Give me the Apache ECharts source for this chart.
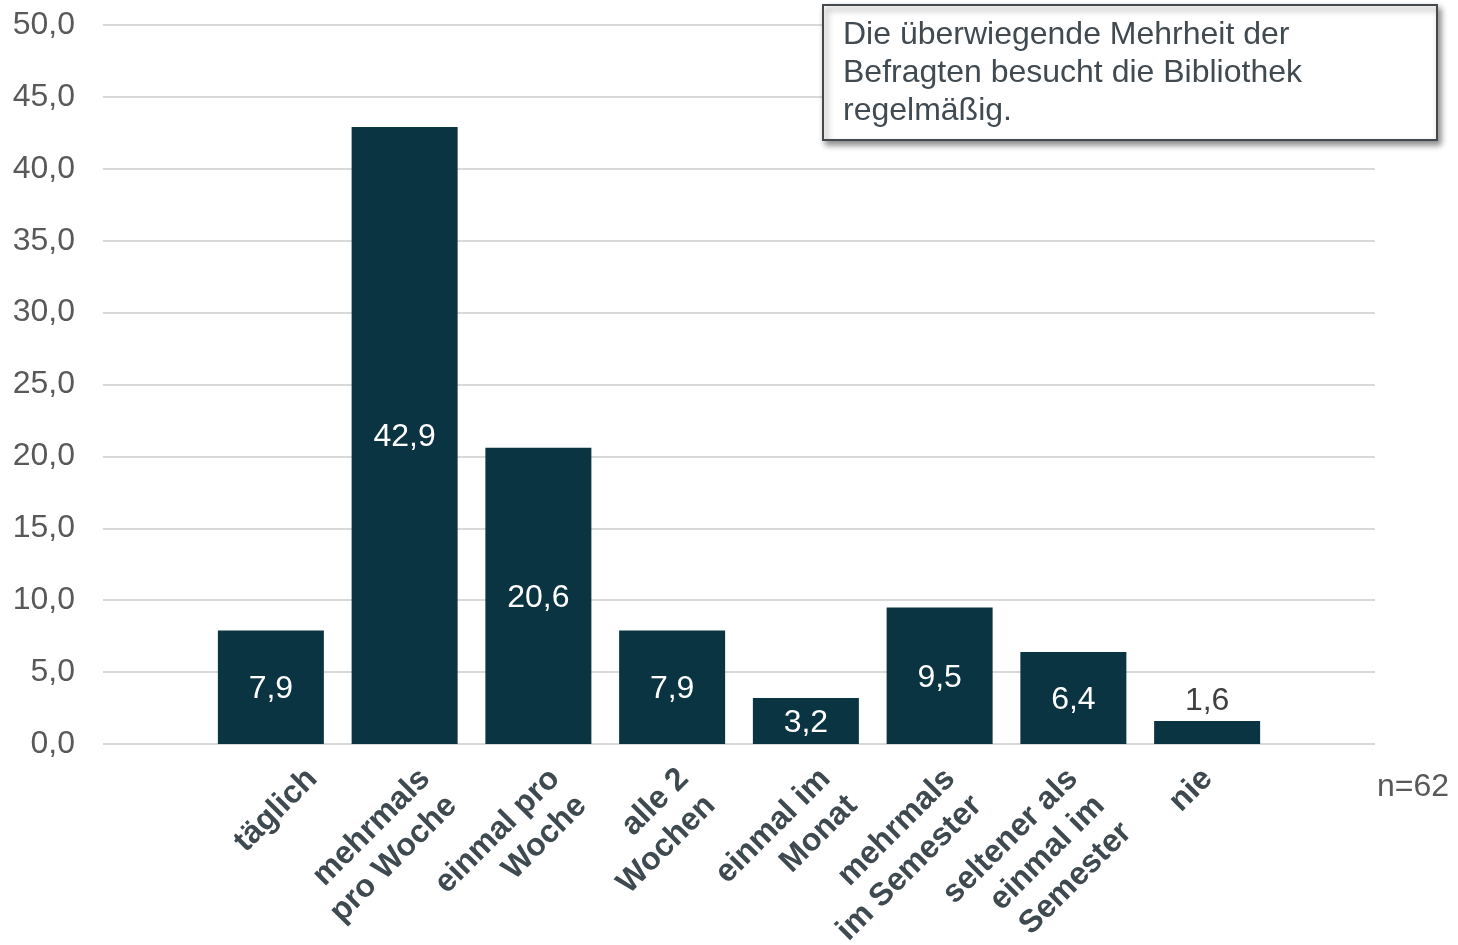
<!DOCTYPE html>
<html>
<head>
    <meta charset="utf-8">
    <title>Bibliotheksbesuche</title>
    <script src="https://cdn.jsdelivr.net/npm/echarts@6/dist/echarts.min.js"></script>
    <style>
        html, body { margin: 0; padding: 0; background: #fff; }
        #main { width: 1458px; height: 945px; }
    </style>
</head>
<body>
<div id="main"></div>
<script type="text/javascript">
    // Daten
    var kategorien = ['täglich', 'mehrmals\npro Woche', 'einmal pro\nWoche', 'alle 2\nWochen',
        'einmal im\nMonat', 'mehrmals\nim Semester', 'seltener als\neinmal im\nSemester', 'nie'];
    var anteile = [7.9, 42.9, 20.6, 7.9, 3.2, 9.5, 6.4, 1.6];
    var yMax = 50, yStep = 5;
    var hinweis = 'Die überwiegende Mehrheit der\nBefragten besucht die Bibliothek\nregelmäßig.';
    var stichprobe = 'n=62';

    var FONT = '"Liberation Sans", Arial, sans-serif';
    var komma = function (v) { return v.toFixed(1).replace('.', ','); };

    var myChart = echarts.init(document.getElementById('main'));

    // Layout: horizontale Verschiebung der gedrehten Beschriftungen (px, wie im Original)
    var verschiebung = [46, 25, 21, 16, 24, 15, 4, 5];

    var balken = anteile.map(function (v) {
        if (v < 2) {
            // kleiner Balken -> Wert oberhalb
            return { value: v, label: { position: 'top', color: '#404040', distance: 6 } };
        }
        return v;
    });

    // unsichtbare Kopie der Balken, traegt die Kategorienbeschriftung am Balkenfuss
    // (offset wirkt im gedrehten System -> zurueckdrehen)
    var fuss = anteile.map(function (v, i) {
        var sx = verschiebung[i] - 18, sy = 16.5;
        return { value: v, label: { offset: [(sx - sy) / Math.SQRT2, (sx + sy) / Math.SQRT2] } };
    });

    var option = {
        backgroundColor: '#fff',
        animation: false,
        grid: [
            { left: 103, right: 83, top: 25, bottom: 201, outerBoundsMode: 'none' },   // Gitternetz
            { left: 204, right: 184, top: 25, bottom: 201, outerBoundsMode: 'none' }   // Balken
        ],
        xAxis: [
            { gridIndex: 0, type: 'value', show: false, min: 0, max: 1 },
            {
                gridIndex: 1,
                type: 'category',
                data: kategorien,
                axisLine: { show: false },
                axisTick: { show: false },
                axisLabel: { show: false }
            }
        ],
        yAxis: [
            {
                gridIndex: 0,
                type: 'value',
                min: 0,
                max: yMax,
                interval: yStep,
                axisLine: { show: false },
                axisTick: { show: false },
                axisLabel: {
                    formatter: komma,
                    fontFamily: FONT,
                    fontSize: 32,
                    color: '#595959',
                    margin: 28
                },
                splitLine: { lineStyle: { color: '#d9d9d9', width: 2 } }
            },
            { gridIndex: 1, type: 'value', min: 0, max: yMax, show: false }
        ],
        series: [
            {
                type: 'bar',
                xAxisIndex: 1,
                yAxisIndex: 1,
                data: balken,
                barWidth: 106,
                itemStyle: { color: '#0b3443' },
                label: {
                    show: true,
                    position: 'inside',
                    offset: [0, 2],
                    formatter: function (p) { return komma(p.value); },
                    fontFamily: FONT,
                    fontSize: 32,
                    color: '#ffffff'
                }
            },
            {
                type: 'bar',
                xAxisIndex: 1,
                yAxisIndex: 1,
                data: fuss,
                barWidth: 106,
                barGap: '-100%',
                silent: true,
                itemStyle: { color: 'rgba(0,0,0,0)' },
                label: {
                    show: true,
                    position: 'bottom',
                    distance: 0,
                    rotate: 45,
                    align: 'right',
                    verticalAlign: 'top',
                    formatter: function (p) { return p.name; },
                    fontFamily: FONT,
                    fontSize: 32,
                    fontWeight: 'bold',
                    lineHeight: 38,
                    color: '#3f4a50'
                }
            }
        ],
        graphic: [
            {
                type: 'rect',
                left: 822,
                top: 4,
                shape: { width: 614, height: 135 },
                style: {
                    fill: '#ffffff',
                    stroke: '#44494d',
                    lineWidth: 2,
                    shadowBlur: 6,
                    shadowOffsetX: 3,
                    shadowOffsetY: 4,
                    shadowColor: 'rgba(0,0,0,0.45)'
                },
                z: 10
            },
            {
                type: 'text',
                left: 843,
                top: 16,
                style: {
                    text: hinweis,
                    font: '32px ' + FONT,
                    lineHeight: 38,
                    fill: '#404a50'
                },
                z: 11
            },
            {
                type: 'text',
                left: 1377,
                top: 771,
                style: {
                    text: stichprobe,
                    font: '32px ' + FONT,
                    fill: '#595959'
                },
                z: 11
            }
        ]
    };

    myChart.setOption(option);
</script>
</body>
</html>
